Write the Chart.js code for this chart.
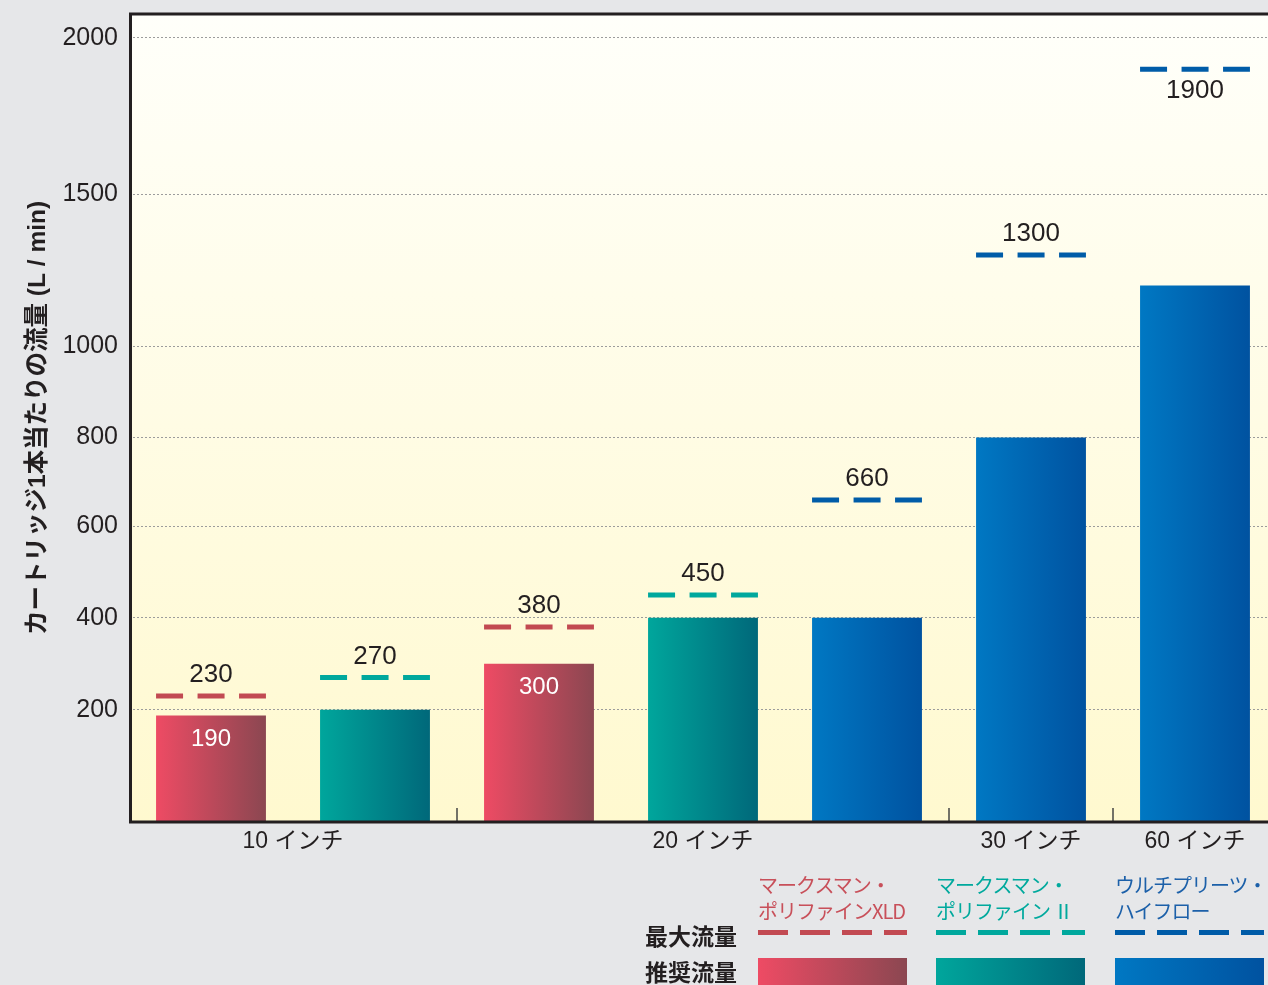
<!DOCTYPE html>
<html lang="ja">
<head>
<meta charset="utf-8">
<script src="https://cdn.jsdelivr.net/npm/chart.js@4.4.1/dist/chart.umd.min.js"></script>
<style>
  html, body { margin: 0; padding: 0; background: #e6e7e9; overflow: hidden; }
  #wrap { position: relative; width: 1290px; height: 985px; }
  .lg { position: absolute; white-space: nowrap; }
  .lg-name { font: 20px 'Noto Sans CJK JP', sans-serif; line-height: 26px; letter-spacing: -1px; }
  .lg-row { font: bold 23px 'Noto Sans CJK JP', sans-serif; line-height: 28px; color: #231f20; }
  .lg-dash { height: 5px; width: 149px; }
  .lg-box { height: 30px; width: 149px; }
</style>
</head>
<body>
<div id="wrap">
  <canvas id="chart"></canvas>
</div>
<script>
// slots along the x axis (one bar each)
const categories = ['10-XLD', '10-II', '20-XLD', '20-II', '20-HF', '30-HF', '60-HF'];
const groupLabels = ['10 インチ', '20 インチ', '30 インチ', '60 インチ'];
const groupSizes = [2, 3, 1, 1];
const yTicks = [200, 400, 600, 800, 1000, 1500, 2000];

// 推奨流量 (bars)
const xldRecommended = [190, null, 300, null, null, null, null];
const iiRecommended  = [null, 200, null, 400, null, null, null];
const hfRecommended  = [null, null, null, null, 400, 800, 1200];
// 最大流量 (dashes)
const xldMax = [230, null, 380, null, null, null, null];
const iiMax  = [null, 270, null, 450, null, null, null];
const hfMax  = [null, null, null, null, 660, 1300, 1900];

const seriesNames = ['マークスマン・\nポリファインXLD', 'マークスマン・\nポリファイン Ⅱ', 'ウルチプリーツ・\nハイフロー'];

const BAR_PCT = 0.67;
const FONT = "'Liberation Sans', 'Noto Sans CJK JP', sans-serif";
const INK = '#231f20';

const styles = [
  { grad: ['#ee4b64', '#8b4751'], dash: '#c24a52', text: '#c8505a' },
  { grad: ['#00a69c', '#00687a'], dash: '#00a89d', text: '#00a99d' },
  { grad: ['#0078c3', '#0052a0'], dash: '#005ca8', text: '#1c60a9' }
];

// the picture's value axis is drawn piecewise: [value, fraction of plot height]
const knots = [[0, 0], [200, 0.1388], [400, 0.2528], [600, 0.3656], [800, 0.4758],
               [1000, 0.5886], [1500, 0.777], [2000, 0.9703], [2080, 1]];

class PiecewiseScale extends Chart.LinearScale {
  getPixelForValue(value) {
    let f = 0;
    if (value <= knots[0][0]) f = 0;
    else if (value >= knots[knots.length - 1][0]) f = 1;
    else {
      for (let i = 1; i < knots.length; i++) {
        if (value <= knots[i][0]) {
          const [v0, f0] = knots[i - 1], [v1, f1] = knots[i];
          f = f0 + (value - v0) / (v1 - v0) * (f1 - f0);
          break;
        }
      }
    }
    return this.bottom - f * (this.bottom - this.top);
  }
  getValueForPixel(pixel) {
    const f = (this.bottom - pixel) / (this.bottom - this.top);
    for (let i = 1; i < knots.length; i++) {
      if (f <= knots[i][1]) {
        const [v0, f0] = knots[i - 1], [v1, f1] = knots[i];
        return v0 + (f - f0) / (f1 - f0) * (v1 - v0);
      }
    }
    return knots[knots.length - 1][0];
  }
}
PiecewiseScale.id = 'piecewise';
PiecewiseScale.defaults = Chart.LinearScale.defaults;
Chart.register(PiecewiseScale);

function barGradient(colors) {
  return (c) => {
    const { ctx, chartArea, scales } = c.chart;
    if (!chartArea || c.type !== 'data' || !scales.x) return colors[0];
    const x = scales.x.getPixelForValue(c.dataIndex);
    const half = (chartArea.right - chartArea.left) / categories.length * BAR_PCT / 2;
    const g = ctx.createLinearGradient(x - half, 0, x + half, 0);
    g.addColorStop(0, colors[0]);
    g.addColorStop(1, colors[1]);
    return g;
  };
}

const recommended = [xldRecommended, iiRecommended, hfRecommended];
const maxima = [xldMax, iiMax, hfMax];

const plotBackground = {
  id: 'plotBackground',
  beforeDraw(chart) {
    const { ctx, chartArea: a } = chart;
    ctx.save();
    const g = ctx.createLinearGradient(0, a.top, 0, a.bottom);
    g.addColorStop(0, '#fffffa');
    g.addColorStop(1, '#fff9cf');
    ctx.fillStyle = g;
    ctx.fillRect(a.left, a.top, chart.width - a.left, a.bottom - a.top);
    ctx.restore();
  }
};

const marks = {
  id: 'marks',
  afterDatasetsDraw(chart) {
    const { ctx, chartArea: a, scales: { x, y } } = chart;
    const slot = (a.right - a.left) / categories.length;
    const w = slot * BAR_PCT;
    ctx.save();
    // maximum flow dashes + labels
    maxima.forEach((arr, s) => {
      arr.forEach((v, i) => {
        if (v == null) return;
        const cx = x.getPixelForValue(i), py = y.getPixelForValue(v);
        ctx.strokeStyle = styles[s].dash;
        ctx.lineWidth = 5;
        ctx.setLineDash([27, 14.5]);
        ctx.beginPath();
        ctx.moveTo(cx - w / 2, py);
        ctx.lineTo(cx + w / 2, py);
        ctx.stroke();
        ctx.setLineDash([]);
        ctx.fillStyle = INK;
        ctx.font = '26px ' + FONT;
        ctx.textAlign = 'center';
        ctx.textBaseline = 'middle';
        const ty = py - 60 < a.top ? py + 22 : py - 21;
        ctx.fillText(String(v), cx, ty);
      });
    });
    // labels inside the XLD bars
    xldRecommended.forEach((v, i) => {
      if (v == null) return;
      ctx.fillStyle = '#ffffff';
      ctx.font = '24px ' + FONT;
      ctx.textAlign = 'center';
      ctx.textBaseline = 'middle';
      ctx.fillText(String(v), x.getPixelForValue(i), y.getPixelForValue(v) + 24);
    });
    ctx.restore();
  },
  afterDraw(chart) {
    const { ctx, chartArea: a } = chart;
    const slot = (a.right - a.left) / categories.length;
    ctx.save();
    // group separators on the base line
    ctx.strokeStyle = '#444';
    ctx.lineWidth = 1.5;
    let k = 0;
    groupSizes.slice(0, -1).forEach(n => {
      k += n;
      const px = a.left + slot * k;
      ctx.beginPath();
      ctx.moveTo(px, a.bottom);
      ctx.lineTo(px, a.bottom - 14);
      ctx.stroke();
    });
    // frame
    ctx.strokeStyle = INK;
    ctx.lineWidth = 3;
    ctx.beginPath();
    ctx.moveTo(chart.width, a.top);
    ctx.lineTo(a.left + 1.5, a.top);
    ctx.lineTo(a.left + 1.5, a.bottom);
    ctx.lineTo(chart.width, a.bottom);
    ctx.stroke();
    // group labels
    ctx.fillStyle = INK;
    ctx.font = '23px ' + FONT;
    ctx.textAlign = 'center';
    ctx.textBaseline = 'middle';
    let start = 0;
    groupLabels.forEach((lab, g) => {
      const cx = a.left + slot * (start + groupSizes[g] / 2);
      ctx.fillText(lab, cx, a.bottom + 20);
      start += groupSizes[g];
    });
    ctx.restore();
  }
};

const ctx = document.getElementById('chart').getContext('2d');
const wrap = document.getElementById('wrap');
new Chart(ctx, {
  type: 'bar',
  data: {
    labels: categories,
    datasets: recommended.map((arr, s) => ({
      label: seriesNames[s],
      data: arr,
      backgroundColor: barGradient(styles[s].grad),
      borderWidth: 0,
      grouped: false,
      categoryPercentage: 1,
      barPercentage: BAR_PCT
    }))
  },
  options: {
    responsive: true,
    maintainAspectRatio: false,
    animation: false,
    layout: { padding: { top: 14, right: 13, bottom: 163, left: 0 } },
    plugins: { legend: { display: false }, tooltip: { enabled: false } },
    scales: {
      x: { display: false },
      y: {
        type: 'piecewise',
        min: 0,
        max: 2080,
        afterBuildTicks: (scale) => { scale.ticks = yTicks.map(v => ({ value: v })); },
        afterFit: (scale) => { scale.width = 129; scale.paddingTop = 0; scale.paddingBottom = 0; },
        grid: { color: '#9c9c9c', lineWidth: 1, drawTicks: false },
        border: { display: false, dash: [2, 2] },
        ticks: {
          padding: 11,
          color: INK,
          font: { family: FONT, size: 25 },
          callback: (v) => String(v)
        },
        title: {
          display: true,
          text: 'カートリッジ1本当たりの流量 (L / min)',
          color: INK,
          font: { family: FONT, size: 24.5, weight: 'bold' },
          padding: { top: 24, bottom: 0 }
        }
      }
    }
  },
  plugins: [plotBackground, marks]
});

// legend (HTML)
const legendCols = [758, 936, 1115];
seriesNames.forEach((name, s) => {
  const t = document.createElement('div');
  t.className = 'lg lg-name';
  t.style.left = legendCols[s] + 'px';
  t.style.top = '872px';
  t.style.color = styles[s].text;
  t.innerHTML = name.replace('\n', '<br>');
  wrap.appendChild(t);

  const d = document.createElement('div');
  d.className = 'lg lg-dash';
  d.style.left = legendCols[s] + 'px';
  d.style.top = '930px';
  d.style.background = 'repeating-linear-gradient(to right, ' + styles[s].dash + ' 0 30px, transparent 30px 42px)';
  wrap.appendChild(d);

  const b = document.createElement('div');
  b.className = 'lg lg-box';
  b.style.left = legendCols[s] + 'px';
  b.style.top = '958px';
  b.style.background = 'linear-gradient(to right, ' + styles[s].grad[0] + ', ' + styles[s].grad[1] + ')';
  wrap.appendChild(b);
});
[['最大流量', 921], ['推奨流量', 957]].forEach(([txt, top]) => {
  const r = document.createElement('div');
  r.className = 'lg lg-row';
  r.style.left = '645px';
  r.style.top = top + 'px';
  r.textContent = txt;
  wrap.appendChild(r);
});
</script>
</body>
</html>
